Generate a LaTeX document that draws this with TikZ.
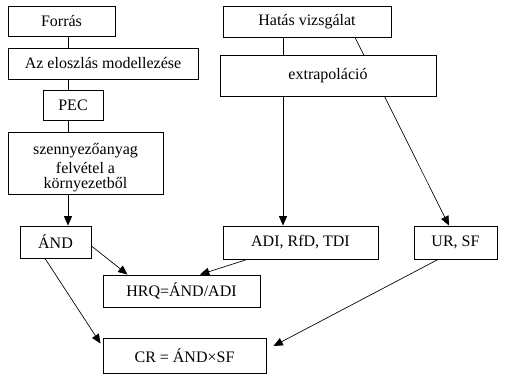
\documentclass[tikz,border=0pt]{standalone}
\usepackage{fontspec}
\setmainfont{Liberation Serif}
\usepackage{tikz}
\usetikzlibrary{arrows.meta, positioning, calc}
\definecolor{mydark}{RGB}{0,0,0}
\tikzset{
  box/.style={rectangle, draw=mydark, fill=white, line width=0.7pt,
    inner sep=0pt, align=center, font=\fontsize{12}{13.5}\selectfont},
  arrow/.style={-{Triangle[length=7pt,width=6pt]}, line width=0.5pt, color=mydark},
  line/.style={line width=0.6pt, color=mydark}
}
\begin{document}
\begin{tikzpicture}[x=0.75pt, y=-0.75pt]
  \useasboundingbox (0,0) rectangle (505,379);

  % Left column (exposure)
  \node[box, minimum width=80.25pt, minimum height=22.5pt] (forras) at (61.5,21) {Forrás};
  \node[box, minimum width=142.5pt, minimum height=23.25pt] (eloszlas) at (103,63.5) {Az eloszlás modellezése};
  \node[box, minimum width=45pt, minimum height=22.5pt] (pec) at (73,105) {PEC};
  \node[box, minimum width=116.25pt, minimum height=46.5pt] (felvetel) at (85.5,163) {\raisebox{-19pt}[0pt][0pt]{\shortstack{szennyezőanyag\\felvétel a\\környezetből}}};

  % Right column (effects)
  \node[box, minimum width=126pt, minimum height=23.25pt] (hatas) at (307,21.5) {Hatás vizsgálat};
  \node[box, minimum width=62.25pt, minimum height=24.75pt] (ursf) at (455.5,242.5) {UR, SF};
  \draw[arrow] ($(hatas.south)+(48,0)$) -- ($(ursf.north)+(-6.5,0)$);
  \node[box, minimum width=162pt, minimum height=30.75pt] (extrapol) at (328,75.5) {extrapoláció};
  \node[box, minimum width=116.25pt, minimum height=24.75pt] (adi) at (300.5,242.5) {ADI, RfD, TDI};

  % Results
  \node[box, minimum width=53.25pt, minimum height=24pt] (and) at (55.5,242) {ÁND};
  \node[box, minimum width=117.75pt, minimum height=24pt] (hrq) at (181.5,291) {HRQ=ÁND/ADI};
  \node[box, minimum width=122.25pt, minimum height=26.25pt] (cr) at (184.5,355.5) {CR = ÁND×SF};

  % Vertical connectors
  \coordinate (lx) at (68,0);
  \coordinate (rx) at (283,0);
  \draw[line] (forras.south -| lx) -- (eloszlas.north -| lx);
  \draw[line] (eloszlas.south -| lx) -- (pec.north -| lx);
  \draw[line] (pec.south -| lx) -- (felvetel.north -| lx);
  \draw[arrow] (felvetel.south -| lx) -- (and.north -| lx);
  \draw[line] (hatas.south -| rx) -- (extrapol.north -| rx);
  \draw[arrow] (extrapol.south -| rx) -- (adi.north -| rx);

  % Diagonal connectors
  \draw[arrow] ($(and.east)+(0,4)$) -- ($(hrq.north)+(-54,0)$);
  \draw[arrow] ($(adi.south)+(-53.5,0)$) -- ($(hrq.north)+(18.5,0)$);
  \draw[arrow] ($(and.south)+(-10.5,0)$) -- ($(cr.west)+(-2,-12)$);
  \draw[arrow] ($(ursf.south)+(-17.5,0)$) -- ($(cr.east)+(7,-9.5)$);
\end{tikzpicture}
\end{document}
